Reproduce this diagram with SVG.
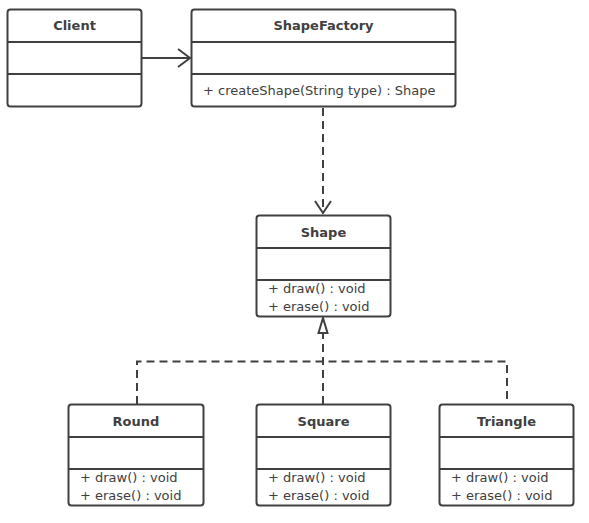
<svg xmlns="http://www.w3.org/2000/svg" width="589" height="523" viewBox="0 0 589 523">
<style>
.box{fill:#fff;stroke:#404040;stroke-width:2}
.div{stroke:#404040;stroke-width:2}
.title{font-family:"DejaVu Sans","Liberation Sans",sans-serif;font-size:13px;font-weight:bold;fill:#404040;text-anchor:middle}
.mem{font-family:"DejaVu Sans","Liberation Sans",sans-serif;font-size:13px;fill:#404040}
.line{fill:none;stroke:#404040;stroke-width:2}
.dash{fill:none;stroke:#404040;stroke-width:2;stroke-dasharray:8 5}
</style>
<rect width="589" height="523" fill="#fff"/>
<g id="connectors">
<line class="line" x1="142" y1="58" x2="190" y2="58"/>
<polyline class="line" points="178,49 190,58 178,67"/>
<line class="dash" x1="323" y1="108" x2="323" y2="213"/>
<polyline class="line" points="315,201 323,213 331,201"/>
<polyline class="dash" points="137,404 137,361.5 507,361.5 507,404"/>
<line class="dash" x1="323" y1="404" x2="323" y2="333"/>
<polygon class="line" points="323,318 318.5,333 327.5,333" style="fill:#fff"/>
</g>
<g id="Client">
<rect class="box" x="7.5" y="9.5" width="134" height="97" rx="3"/>
<line class="div" x1="7.5" y1="42" x2="141.5" y2="42"/>
<line class="div" x1="7.5" y1="74" x2="141.5" y2="74"/>
<text class="title" x="74.5" y="30">Client</text>
</g>
<g id="ShapeFactory">
<rect class="box" x="191.5" y="9.5" width="264" height="97" rx="3"/>
<line class="div" x1="191.5" y1="42" x2="455.5" y2="42"/>
<line class="div" x1="191.5" y1="74" x2="455.5" y2="74"/>
<text class="title" x="323.5" y="30">ShapeFactory</text>
<text class="mem" x="203" y="95">+ createShape(String type) : Shape</text>
</g>
<g id="Shape">
<rect class="box" x="256.5" y="215.5" width="134" height="101" rx="3"/>
<line class="div" x1="256.5" y1="248" x2="390.5" y2="248"/>
<line class="div" x1="256.5" y1="280" x2="390.5" y2="280"/>
<text class="title" x="323.5" y="237">Shape</text>
<text class="mem" x="268" y="293">+ draw() : void</text>
<text class="mem" x="268" y="311">+ erase() : void</text>
</g>
<g id="Round">
<rect class="box" x="68.5" y="404.5" width="135" height="101" rx="3"/>
<line class="div" x1="68.5" y1="437" x2="203.5" y2="437"/>
<line class="div" x1="68.5" y1="469" x2="203.5" y2="469"/>
<text class="title" x="136" y="426">Round</text>
<text class="mem" x="80" y="482">+ draw() : void</text>
<text class="mem" x="80" y="500">+ erase() : void</text>
</g>
<g id="Square">
<rect class="box" x="256.5" y="404.5" width="134" height="101" rx="3"/>
<line class="div" x1="256.5" y1="437" x2="390.5" y2="437"/>
<line class="div" x1="256.5" y1="469" x2="390.5" y2="469"/>
<text class="title" x="323.5" y="426">Square</text>
<text class="mem" x="268" y="482">+ draw() : void</text>
<text class="mem" x="268" y="500">+ erase() : void</text>
</g>
<g id="Triangle">
<rect class="box" x="439.5" y="404.5" width="134" height="101" rx="3"/>
<line class="div" x1="439.5" y1="437" x2="573.5" y2="437"/>
<line class="div" x1="439.5" y1="469" x2="573.5" y2="469"/>
<text class="title" x="506.5" y="426">Triangle</text>
<text class="mem" x="451" y="482">+ draw() : void</text>
<text class="mem" x="451" y="500">+ erase() : void</text>
</g>
</svg>
